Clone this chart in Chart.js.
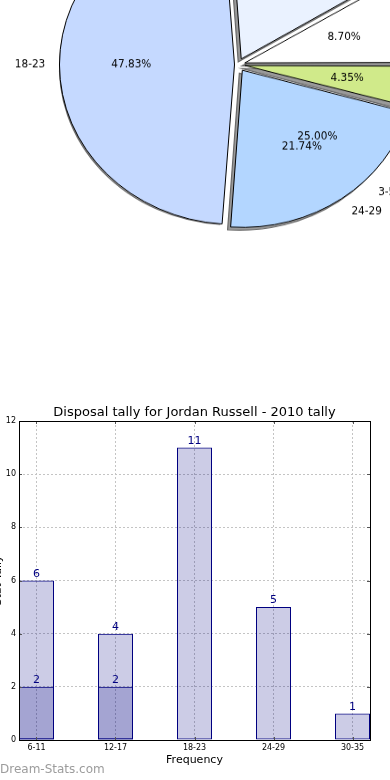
<!DOCTYPE html>
<html>
<head>
<meta charset="utf-8">
<script src="https://cdn.jsdelivr.net/npm/chart.js@4.4.1/dist/chart.umd.min.js"></script>
<style>
html, body { margin: 0; padding: 0; width: 390px; height: 780px; overflow: hidden; background: #fff; }
body { position: relative; }
#pieBox { position: absolute; left: -42px; top: -118px; width: 560px; height: 400px; transform: scaleY(0.913); transform-origin: 0 0; }
#barBox { position: absolute; left: -10px; top: 395px; width: 400px; height: 380px; }
#mark { position: absolute; left: 0; top: 762px; font: 12px "DejaVu Sans", sans-serif; color: #9c9c9c; }
</style>
</head>
<body>
<div id="pieBox"><canvas id="pieChart" width="560" height="400"></canvas></div>
<div id="barBox"><canvas id="barChart" width="400" height="380"></canvas></div>
<div id="mark">Dream-Stats.com</div>
<script>
// pie (matplotlib order, counter-clockwise from 3 o'clock)
var pieLabels = ['6-11', '12-17', '18-23', '24-29', '30-35'];
var pieValues = [2, 4, 11, 5, 1];
var pieColors = ['#ffffff', '#eaf2ff', '#c5d9ff', '#b3d6ff', '#d0ea8a'];
var pieExplode = [28, 28, 14, 30, 28];
// stray text left over from an overlapping pie in the original
var strayLabel = '3-5';
var strayPct = '25.00%';
var strayAngle = 315;
var strayExplode = 36;

// bars
var barTitle = 'Disposal tally for Jordan Russell - 2010 tally';
var barCategories = ['6-11', '12-17', '18-23', '24-29', '30-35'];
var totalTally = [6, 4, 11, 5, 1];
var subTally = [2, 2, null, null, null];
var yTicks = [0, 2, 4, 6, 8, 10, 12];

var squash = 0.913;

document.addEventListener('DOMContentLoaded', function() {
    Chart.defaults.font.family = '"DejaVu Sans", sans-serif';
    Chart.defaults.color = '#000';

    // chart.js goes clockwise, so feed the slices in reverse
    var total = pieValues.reduce(function(a, b) { return a + b; }, 0);
    var rev = function(arr) { return arr.slice().reverse(); };

    function arcPoint(arc, off, f) {
        var mid = (arc.startAngle + arc.endAngle) / 2;
        var r = arc.outerRadius * f + off / 4;
        return { x: arc.x + Math.cos(mid) * r, y: arc.y + Math.sin(mid) * r, mid: mid };
    }

    function drawText(ctx, text, x, y, align) {
        ctx.save();
        ctx.translate(x, y);
        ctx.scale(1, 1 / squash);
        ctx.textAlign = align;
        ctx.textBaseline = 'middle';
        ctx.fillText(text, 0, 0);
        ctx.restore();
    }

    var pieShadow = {
        id: 'pieShadow',
        beforeDatasetsDraw: function(chart) {
            var ctx = chart.ctx;
            var arcs = chart.getDatasetMeta(0).data;
            var offs = rev(pieExplode);
            arcs.forEach(function(arc, i) {
                var mid = (arc.startAngle + arc.endAngle) / 2;
                var o = offs[i] / 4;
                ctx.save();
                ctx.translate(Math.cos(mid) * o - 3, Math.sin(mid) * o + 3 / squash);
                ctx.beginPath();
                ctx.moveTo(arc.x, arc.y);
                ctx.arc(arc.x, arc.y, arc.outerRadius, arc.startAngle, arc.endAngle);
                ctx.closePath();
                ctx.fillStyle = '#9a9a9a';
                ctx.fill();
                ctx.lineWidth = 1.2;
                ctx.strokeStyle = '#6a6a6a';
                ctx.stroke();
                ctx.restore();
            });
        }
    };

    var pieText = {
        id: 'pieText',
        afterDatasetsDraw: function(chart) {
            var ctx = chart.ctx;
            var arcs = chart.getDatasetMeta(0).data;
            var labels = rev(pieLabels);
            var values = rev(pieValues);
            var offs = rev(pieExplode);
            ctx.fillStyle = '#000';
            ctx.font = '10.5px "DejaVu Sans"';
            arcs.forEach(function(arc, i) {
                var p = arcPoint(arc, offs[i], 0.6);
                drawText(ctx, (values[i] / total * 100).toFixed(2) + '%', p.x, p.y, 'center');
                var q = arcPoint(arc, offs[i], 1.1);
                drawText(ctx, labels[i], q.x, q.y, Math.cos(q.mid) > 0 ? 'left' : 'right');
            });
            // stray labels
            var a0 = arcs[0];
            var ang = -strayAngle * Math.PI / 180;
            var r = a0.outerRadius;
            var o = strayExplode / 4;
            drawText(ctx, strayPct, a0.x + Math.cos(ang) * (r * 0.6 + o), a0.y + Math.sin(ang) * (r * 0.6 + o), 'center');
            drawText(ctx, strayLabel, a0.x + Math.cos(ang) * (r * 1.1 + o), a0.y + Math.sin(ang) * (r * 1.1 + o), 'left');
        }
    };

    new Chart(document.getElementById('pieChart').getContext('2d'), {
        type: 'pie',
        data: {
            labels: rev(pieLabels),
            datasets: [{
                data: rev(pieValues),
                backgroundColor: rev(pieColors),
                borderColor: '#000',
                borderWidth: 1,
                offset: rev(pieExplode)
            }]
        },
        options: {
            responsive: false,
            animation: false,
            rotation: 90,
            radius: 172,
            layout: { padding: 0 },
            plugins: { legend: { display: false }, tooltip: { enabled: false } }
        },
        plugins: [pieShadow, pieText]
    });

    // bar chart
    var barFrame = {
        id: 'barFrame',
        afterDatasetsDraw: function(chart) {
            var ctx = chart.ctx;
            var a = chart.chartArea;
            ctx.save();
            // inward tick marks
            ctx.strokeStyle = '#555';
            ctx.lineWidth = 1;
            var xs = chart.scales.x, ys = chart.scales.y;
            barCategories.forEach(function(c, i) {
                var x = Math.round(xs.getPixelForValue(i)) + 0.5;
                ctx.beginPath();
                ctx.moveTo(x, a.bottom); ctx.lineTo(x, a.bottom - 3);
                ctx.moveTo(x, a.top); ctx.lineTo(x, a.top + 3);
                ctx.stroke();
            });
            yTicks.forEach(function(v) {
                var y = Math.round(ys.getPixelForValue(v)) + 0.5;
                ctx.beginPath();
                ctx.moveTo(a.left, y); ctx.lineTo(a.left + 3, y);
                ctx.moveTo(a.right, y); ctx.lineTo(a.right - 3, y);
                ctx.stroke();
            });
            ctx.strokeStyle = '#000';
            ctx.strokeRect(Math.round(a.left) + 0.5, Math.round(a.top) + 0.5,
                Math.round(a.right - a.left), Math.round(a.bottom - a.top));
            // value labels
            ctx.fillStyle = '#000080';
            ctx.font = '11px "DejaVu Sans"';
            ctx.textAlign = 'center';
            ctx.textBaseline = 'bottom';
            chart.data.datasets.forEach(function(ds, di) {
                chart.getDatasetMeta(di).data.forEach(function(bar, i) {
                    ctx.fillText(String(ds.data[i].y), bar.x, bar.y - 1);
                });
            });
            // title centred over the axes, as matplotlib does
            ctx.fillStyle = '#000';
            ctx.font = '13px "DejaVu Sans"';
            ctx.textBaseline = 'middle';
            ctx.fillText(barTitle, (a.left + a.right) / 2, a.top - 8);
            ctx.restore();
        }
    };

    function points(arr) {
        var out = [];
        arr.forEach(function(v, i) { if (v !== null) out.push({ x: i, y: v }); });
        return out;
    }

    var barStyle = {
        backgroundColor: 'rgba(0,0,128,0.2)',
        borderColor: '#000080',
        borderWidth: 1,
        borderSkipped: false,
        inflateAmount: 0,
        barThickness: 35,
        grouped: false
    };

    new Chart(document.getElementById('barChart').getContext('2d'), {
        type: 'bar',
        data: {
            datasets: [
                Object.assign({ data: points(totalTally) }, barStyle),
                Object.assign({ data: points(subTally) }, barStyle)
            ]
        },
        options: {
            responsive: false,
            animation: false,
            layout: { padding: { right: 20, left: 0, top: 26, bottom: 0 } },
            plugins: {
                legend: { display: false },
                tooltip: { enabled: false },
                title: { display: false }
            },
            scales: {
                x: {
                    type: 'linear',
                    offset: false,
                    min: -0.2215,
                    max: 4.2215,
                    afterBuildTicks: function(s) {
                        s.ticks = barCategories.map(function(c, i) { return { value: i }; });
                    },
                    afterFit: function(s) { s.height = 35; },
                    ticks: {
                        callback: function(v) { return barCategories[v]; },
                        font: { size: 8 },
                        color: '#000',
                        padding: 3,
                        maxRotation: 0,
                        autoSkip: false
                    },
                    grid: { color: '#c4c4c4', lineWidth: 1, drawTicks: false, offset: false },
                    border: { display: false, dash: [2, 2] },
                    title: {
                        display: true,
                        text: 'Frequency',
                        color: '#000',
                        font: { size: 11 },
                        padding: { top: 0, bottom: 8 }
                    }
                },
                y: {
                    min: 0,
                    max: 12,
                    afterBuildTicks: function(s) {
                        s.ticks = yTicks.map(function(v) { return { value: v }; });
                    },
                    afterFit: function(s) { s.width = 29; },
                    ticks: { font: { size: 8 }, color: '#000', padding: 3 },
                    grid: { color: '#c4c4c4', lineWidth: 1, drawTicks: false },
                    border: { display: false, dash: [2, 2] },
                    title: {
                        display: true,
                        text: 'Stat Tally',
                        color: '#000',
                        font: { size: 11 },
                        padding: { top: 2, bottom: 0 }
                    }
                }
            }
        },
        plugins: [barFrame]
    });
});
</script>
</body>
</html>
